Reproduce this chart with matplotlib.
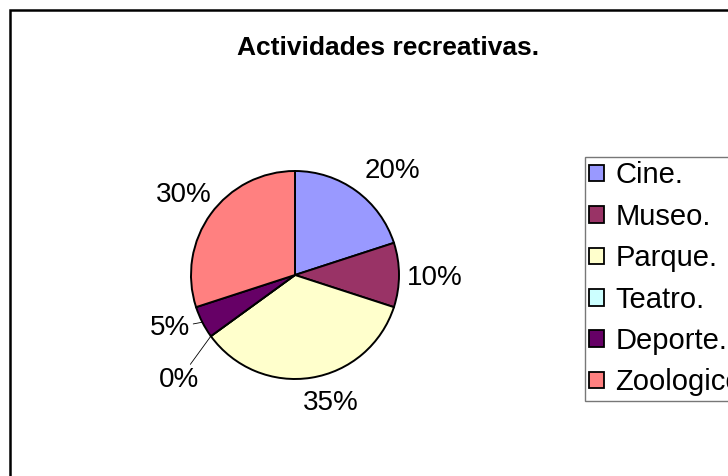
import matplotlib
matplotlib.use("Agg")
import matplotlib.pyplot as plt
import matplotlib.patches as mpatches
import numpy as np

plt.rcParams.update({
    "font.family": ["Liberation Sans", "DejaVu Sans"],
})

# ─── 数据 ───
categorias = ["Cine.", "Museo.", "Parque.", "Teatro.", "Deporte.", "Zoologico."]
porcentajes = [20, 10, 35, 0, 5, 30]
colores = ["#9999FF", "#993366", "#FFFFCC", "#CCFFFF", "#660066", "#FF8080"]
titulo = "Actividades recreativas."

# label offsets (pixels from the wedge's outer mid point) and leader flag
offsets = [(36, 20), (36, -3), (19, -25), (-32, -44), (-32, -6), (-27, 19)]
leader = [False, False, False, True, True, False]

W, H = 728, 476
fig = plt.figure(figsize=(W / 100, H / 100), dpi=100)

# outer chart border (runs off the right / bottom edge like the original)
fig.patches.append(mpatches.Rectangle(
    (10 / W, -0.2), 1.2, 1.2 - 10 / H, transform=fig.transFigure,
    fill=False, edgecolor="black", linewidth=1.8, zorder=0))

# pie axes: centre (295, 275) px, radius 104 px
cx, cy, r = 295, 275, 104
lim = 1.1
ax = fig.add_axes([(cx - r * lim) / W, (H - cy - r * lim) / H,
                   2 * r * lim / W, 2 * r * lim / H])
wedges, _ = ax.pie(porcentajes, colors=colores, startangle=90, counterclock=False,
                   wedgeprops=dict(edgecolor="black", linewidth=1.4))
ax.set_xlim(-lim, lim)
ax.set_ylim(-lim, lim)
ax.set_aspect("equal")
ax.axis("off")

for w, pct, (dx, dy), ld in zip(wedges, porcentajes, offsets, leader):
    ang = np.deg2rad((w.theta1 + w.theta2) / 2)
    x, y = np.cos(ang), np.sin(ang)
    ax.annotate(f"{pct}%", xy=(x, y), xytext=(dx, dy), textcoords="offset pixels",
                ha="center", va="center", fontsize=20, annotation_clip=False,
                arrowprops=dict(arrowstyle="-", color="black", lw=0.6,
                                shrinkA=0, shrinkB=0) if ld else None)

fig.text(388 / W, 1 - 48 / H, titulo, ha="center", va="center",
         fontsize=19, fontweight="bold")

handles = [mpatches.Patch(facecolor=c, edgecolor="black", linewidth=1.3) for c in colores]
leg = fig.legend(handles, categorias, loc="upper left",
                 bbox_to_anchor=(585 / W, 1 - 157 / H), fontsize=21,
                 frameon=True, fancybox=False, borderpad=0.15,
                 labelspacing=0.46, handlelength=0.5, handleheight=0.5,
                 handletextpad=0.4, borderaxespad=0)
leg.get_frame().set_edgecolor("#555555")
leg.get_frame().set_linewidth(1.0)

fig.savefig("out.png", dpi=100)
